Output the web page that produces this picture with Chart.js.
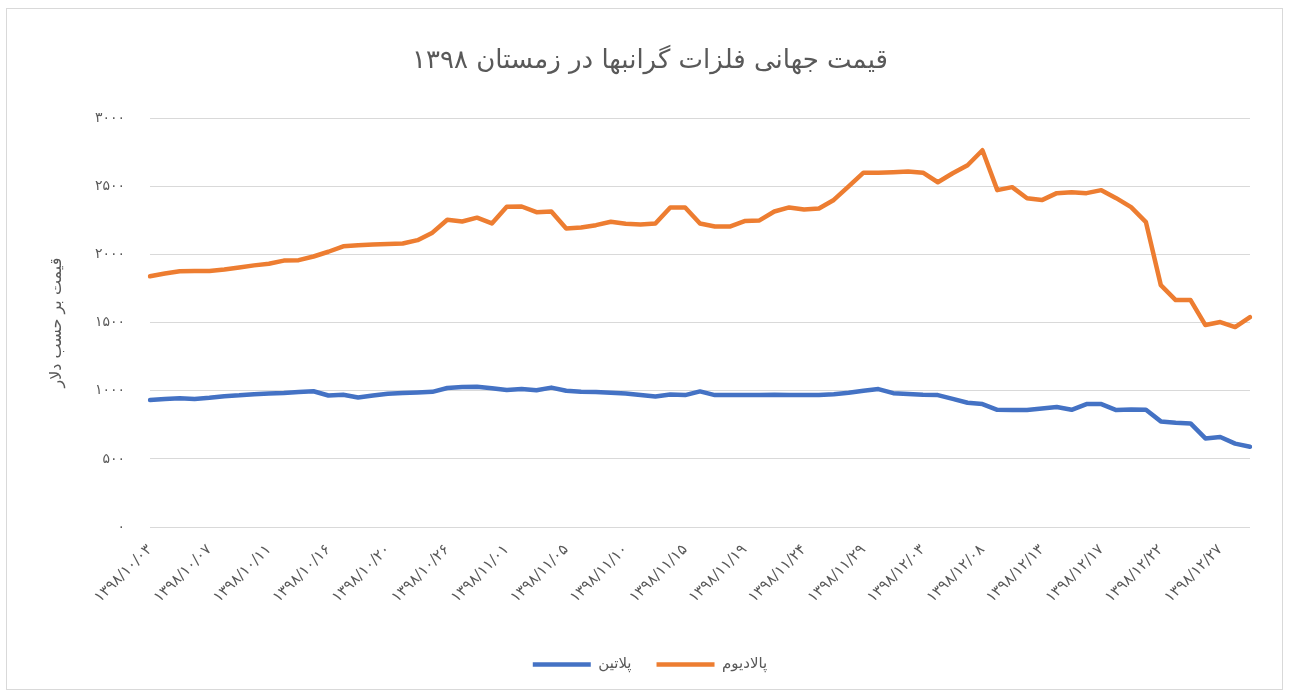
<!DOCTYPE html>
<html>
<head>
<meta charset="utf-8">
<script src="https://cdn.jsdelivr.net/npm/chart.js@4"></script>
<style>
  body { margin: 0; background: #fff; }
  #wrap { width: 1295px; height: 695px; }
</style>
</head>
<body>
<div id="wrap"><canvas id="chart"></canvas></div>
<script>
// x axis labels, one every 4 points
let tickDates = ['۱۳۹۸/۱۰/۰۳', '۱۳۹۸/۱۰/۰۷', '۱۳۹۸/۱۰/۱۱', '۱۳۹۸/۱۰/۱۶', '۱۳۹۸/۱۰/۲۰', '۱۳۹۸/۱۰/۲۶',
    '۱۳۹۸/۱۱/۰۱', '۱۳۹۸/۱۱/۰۵', '۱۳۹۸/۱۱/۱۰', '۱۳۹۸/۱۱/۱۵', '۱۳۹۸/۱۱/۱۹', '۱۳۹۸/۱۱/۲۴', '۱۳۹۸/۱۱/۲۹',
    '۱۳۹۸/۱۲/۰۳', '۱۳۹۸/۱۲/۰۸', '۱۳۹۸/۱۲/۱۳', '۱۳۹۸/۱۲/۱۷', '۱۳۹۸/۱۲/۲۲', '۱۳۹۸/۱۲/۲۷']
let labelStep = 4

// platinum (blue)
let platinum = [932, 940, 944, 940, 948, 960, 966, 975, 979, 983,
    990, 996, 965, 970, 950, 965, 978, 983, 987, 992,
    1020, 1028, 1030, 1019, 1005, 1013, 1003, 1023, 1000, 992,
    990, 985, 980, 968, 958, 973, 968, 995, 968, 968,
    968, 968, 970, 968, 968, 968, 975, 985, 1000, 1012,
    982, 976, 970, 968, 940, 912, 902, 860, 858, 858,
    870, 880, 860, 902, 902, 858, 862, 860, 775, 765,
    760, 650, 660, 612, 589]

// palladium (orange)
let palladium = [1840, 1860, 1877, 1878, 1879, 1890, 1905, 1920, 1932, 1955,
    1958, 1985, 2020, 2060, 2068, 2073, 2076, 2080, 2105, 2160,
    2255, 2242, 2270, 2228, 2350, 2352, 2310, 2315, 2190, 2198,
    2215, 2240, 2225, 2220, 2227, 2345, 2345, 2227, 2205, 2205,
    2245, 2250, 2315, 2345, 2330, 2337, 2400, 2500, 2600, 2600,
    2604, 2608, 2600, 2530, 2596, 2655, 2765, 2472, 2494, 2413,
    2399, 2450, 2457, 2450, 2472, 2413, 2347, 2237, 1775, 1665,
    1665, 1482, 1504, 1467, 1540]

let seriesNames = ['پلاتین', 'پالادیوم']
let titleText = 'قیمت جهانی فلزات گرانبها در زمستان ۱۳۹۸'
let yTitle = 'قیمت بر حسب دلار'

let labels = platinum.map((v, i) => i % labelStep === 0 ? (tickDates[i / labelStep] || '') : '')

const faDigits = '۰۱۲۳۴۵۶۷۸۹'
const toFa = n => String(n).replace(/[0-9]/g, d => faDigits[d])

const grey = '#595959'
const font = 'DejaVu Sans'

const frame = {
    id: 'frame',
    beforeDraw(chart) {
        let c = chart.ctx
        c.save()
        c.fillStyle = '#fff'
        c.fillRect(0, 0, chart.width, chart.height)
        c.strokeStyle = '#d9d9d9'
        c.lineWidth = 1
        c.strokeRect(6.5, 8.5, 1276, 681)
        c.restore()
    }
}

const ctx = document.getElementById('chart').getContext('2d')
const myChart = new Chart(ctx, {
    type: 'line',
    data: {
        labels: labels,
        datasets: [{
            label: seriesNames[0],
            data: platinum,
            borderColor: '#4472C4',
            backgroundColor: '#4472C4',
            borderWidth: 4.5,
            pointRadius: 0,
            tension: 0,
            borderJoinStyle: 'round',
            borderCapStyle: 'round'
        }, {
            label: seriesNames[1],
            data: palladium,
            borderColor: '#ED7D31',
            backgroundColor: '#ED7D31',
            borderWidth: 4.5,
            pointRadius: 0,
            tension: 0,
            borderJoinStyle: 'round',
            borderCapStyle: 'round'
        }]
    },
    options: {
        responsive: true,
        maintainAspectRatio: false,
        animation: false,
        layout: { padding: { top: 22, left: 20, right: 15, bottom: 13 } },
        plugins: {
            title: {
                display: true,
                text: titleText,
                color: grey,
                font: { family: font, size: 26, weight: 'normal' },
                padding: { top: 24, bottom: 41 }
            },
            legend: {
                position: 'bottom',
                labels: {
                    usePointStyle: true,
                    pointStyle: 'line',
                    pointStyleWidth: 58,
                    color: grey,
                    padding: 25,
                    font: { family: font, size: 15 }
                }
            },
            tooltip: { enabled: false }
        },
        scales: {
            x: {
                grid: { display: false },
                border: { display: false },
                ticks: {
                    autoSkip: false,
                    maxRotation: 45,
                    minRotation: 45,
                    padding: 6,
                    color: grey,
                    font: { family: font, size: 15 }
                },
                afterFit: s => { s.height = 105 }
            },
            y: {
                min: 0,
                max: 3000,
                grid: { color: '#d9d9d9', drawTicks: false },
                border: { display: false },
                ticks: {
                    stepSize: 500,
                    padding: 25,
                    color: grey,
                    font: { family: font, size: 14 },
                    callback: v => toFa(v)
                },
                title: {
                    display: true,
                    text: yTitle,
                    color: grey,
                    font: { family: font, size: 16 },
                    padding: { top: 27, bottom: 0 }
                },
                afterFit: s => { s.width = 130 }
            },
            yRight: {
                position: 'right',
                display: true,
                grid: { display: false },
                border: { display: false },
                ticks: { display: false },
                afterFit: s => { s.width = 30 }
            }
        }
    },
    plugins: [frame]
})
</script>
</body>
</html>
